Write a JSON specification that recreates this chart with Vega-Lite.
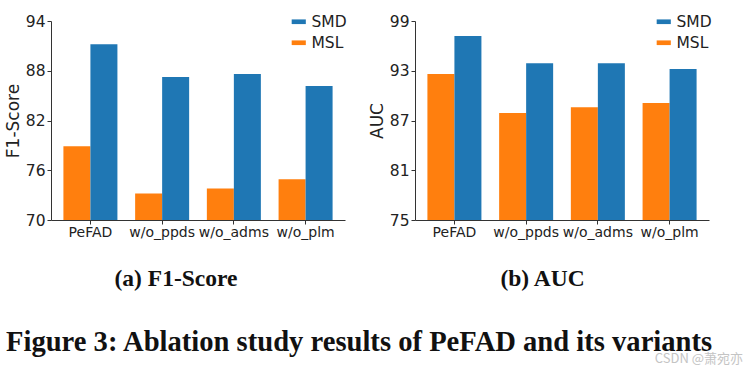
{
  "$schema": "https://vega.github.io/schema/vega-lite/v6.json",
  "background": "white",
  "padding": {"left": 4, "top": 14, "right": 0, "bottom": 0},
  "datasets": {
    "f1": [
      {"variant": "PeFAD", "dataset": "MSL", "value": 78.9},
      {"variant": "PeFAD", "dataset": "SMD", "value": 91.2},
      {"variant": "w/o_ppds", "dataset": "MSL", "value": 73.2},
      {"variant": "w/o_ppds", "dataset": "SMD", "value": 87.25},
      {"variant": "w/o_adms", "dataset": "MSL", "value": 73.8},
      {"variant": "w/o_adms", "dataset": "SMD", "value": 87.6},
      {"variant": "w/o_plm", "dataset": "MSL", "value": 74.9},
      {"variant": "w/o_plm", "dataset": "SMD", "value": 86.15}
    ],
    "auc": [
      {"variant": "PeFAD", "dataset": "MSL", "value": 92.6},
      {"variant": "PeFAD", "dataset": "SMD", "value": 97.2},
      {"variant": "w/o_ppds", "dataset": "MSL", "value": 87.9},
      {"variant": "w/o_ppds", "dataset": "SMD", "value": 93.9},
      {"variant": "w/o_adms", "dataset": "MSL", "value": 88.6},
      {"variant": "w/o_adms", "dataset": "SMD", "value": 93.9},
      {"variant": "w/o_plm", "dataset": "MSL", "value": 89.1},
      {"variant": "w/o_plm", "dataset": "SMD", "value": 93.2}
    ]
  },
  "spacing": 70,
  "bounds": "flush",
  "resolve": {"scale": {"color": "independent", "y": "independent", "x": "independent"}, "legend": {"color": "independent"}},
  "hconcat": [
    {
      "width": 294,
      "height": 199,
      "data": {"name": "f1"},
      "title": {
        "text": "Figure 3: Ablation study results of PeFAD and its variants",
        "orient": "bottom", "anchor": "start", "frame": "group", "dx": -45, "offset": 38,
        "font": "Liberation Serif", "fontSize": 28.6, "fontWeight": "bold", "color": "#111"
      },
      "mark": {"type": "bar", "clip": true},
      "encoding": {
        "x": {
          "field": "variant", "type": "nominal",
          "sort": ["PeFAD", "w/o_ppds", "w/o_adms", "w/o_plm"],
          "scale": {"paddingInner": 0.247, "paddingOuter": 0.173},
          "axis": {
            "title": "(a) F1-Score", "labelAngle": 0, "labelFontSize": 14, "labelPadding": 1,
            "titleFont": "Liberation Serif", "titleFontSize": 23.5, "titleFontWeight": "bold", "titleColor": "#111",
            "titleX": 124.5, "titleY": 65, "titleAlign": "center", "titleBaseline": "alphabetic"
          }
        },
        "xOffset": {"field": "dataset", "type": "nominal", "scale": {"domain": ["MSL", "SMD"], "paddingInner": 0, "paddingOuter": 0}},
        "y": {
          "field": "value", "type": "quantitative",
          "scale": {"domain": [70, 94], "nice": false, "zero": false},
          "axis": {"values": [70, 76, 82, 88, 94], "title": "F1-Score", "titlePadding": 3}
        },
        "color": {
          "field": "dataset", "type": "nominal",
          "scale": {"domain": ["MSL", "SMD"], "range": ["#ff7f0e", "#1f77b4"]},
          "legend": {
            "orient": "none", "legendX": 240, "legendY": -7, "title": null, "values": ["SMD", "MSL"],
            "symbolType": "M-1,-0.33H1V0.33H-1Z", "symbolSize": 200, "labelFontSize": 15.5,
            "rowPadding": 4, "labelOffset": 5, "padding": 0, "symbolStrokeWidth": 0
          }
        }
      }
    },
    {
      "width": 294,
      "height": 199,
      "data": {"name": "auc"},
      "title": {
        "text": "CSDN @萧宛亦",
        "orient": "bottom", "anchor": "end", "frame": "group", "dx": 34, "offset": 63,
        "font": "Noto Sans CJK SC", "fontSize": 13, "fontWeight": "normal", "color": "#c4c4c4"
      },
      "mark": {"type": "bar", "clip": true},
      "encoding": {
        "x": {
          "field": "variant", "type": "nominal",
          "sort": ["PeFAD", "w/o_ppds", "w/o_adms", "w/o_plm"],
          "scale": {"paddingInner": 0.247, "paddingOuter": 0.173},
          "axis": {
            "title": "(b) AUC", "labelAngle": 0, "labelFontSize": 14, "labelPadding": 1,
            "titleFont": "Liberation Serif", "titleFontSize": 23.5, "titleFontWeight": "bold", "titleColor": "#111",
            "titleX": 127, "titleY": 65, "titleAlign": "center", "titleBaseline": "alphabetic"
          }
        },
        "xOffset": {"field": "dataset", "type": "nominal", "scale": {"domain": ["MSL", "SMD"], "paddingInner": 0, "paddingOuter": 0}},
        "y": {
          "field": "value", "type": "quantitative",
          "scale": {"domain": [75, 99], "nice": false, "zero": false},
          "axis": {"values": [75, 81, 87, 93, 99], "title": "AUC", "titlePadding": 3}
        },
        "color": {
          "field": "dataset", "type": "nominal",
          "scale": {"domain": ["MSL", "SMD"], "range": ["#ff7f0e", "#1f77b4"]},
          "legend": {
            "orient": "none", "legendX": 241, "legendY": -7, "title": null, "values": ["SMD", "MSL"],
            "symbolType": "M-1,-0.33H1V0.33H-1Z", "symbolSize": 200, "labelFontSize": 15.5,
            "rowPadding": 4, "labelOffset": 5, "padding": 0, "symbolStrokeWidth": 0
          }
        }
      }
    }
  ],
  "config": {
    "font": "DejaVu Sans",
    "view": {"stroke": null},
    "axis": {
      "grid": false, "domainColor": "#333", "tickColor": "#333", "tickSize": 4,
      "labelColor": "#222", "titleColor": "#222", "labelFontSize": 15.5, "titleFontSize": 17,
      "titleFontWeight": "normal", "labelFont": "DejaVu Sans", "titleFont": "DejaVu Sans"
    },
    "legend": {"labelColor": "#222", "labelFont": "DejaVu Sans"}
  }
}
